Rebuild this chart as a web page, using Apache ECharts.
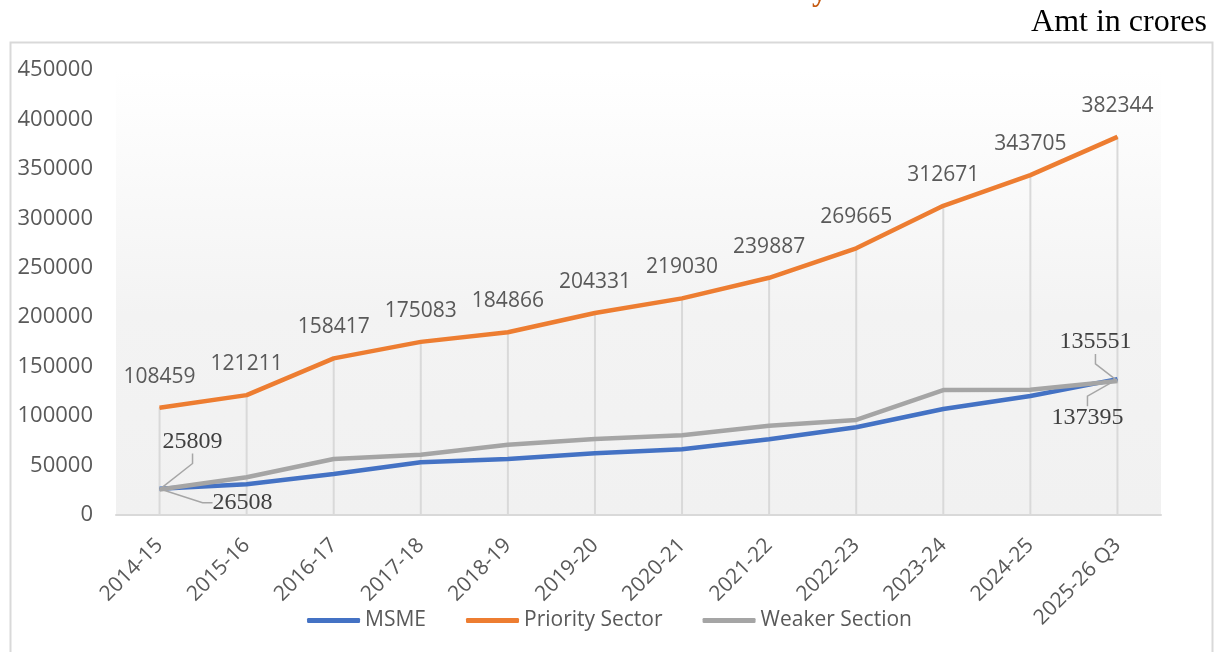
<!DOCTYPE html>
<html>
<head>
<meta charset="utf-8">
<script src="https://cdn.jsdelivr.net/npm/echarts@6/dist/echarts.min.js"></script>
<style>
  html, body { margin: 0; padding: 0; background: #fff; }
  #main { width: 1219px; height: 652px; }
</style>
</head>
<body>
<div id="main"></div>
<script>
var years = ['2014-15', '2015-16', '2016-17', '2017-18', '2018-19', '2019-20',
    '2020-21', '2021-22', '2022-23', '2023-24', '2024-25', '2025-26 Q3'];
var msme = [26508, 31000, 41500, 53300, 56600, 62400, 66400, 76500, 88700, 107200, 120300, 137395];
var priority = [108459, 121211, 158417, 175083, 184866, 204331, 219030, 239887, 269665, 312671, 343705, 382344];
var weaker = [25809, 38100, 56600, 61000, 71100, 76900, 80600, 90300, 96100, 126400, 126600, 135551];

var myChart = echarts.init(document.getElementById('main'));

var sansFont = '"Open Sans", "Noto Sans", sans-serif';
var serifFont = '"Liberation Serif", "DejaVu Serif", serif';

// only first and last points carry a label on the two lower lines
function endLabels(values) {
    return values.map(function (v, i) {
        var show = (i === 0 || i === values.length - 1);
        return { value: v, label: { show: show } };
    });
}

// label offsets (dx, dy) from the point for first / last labels
var msmeOffsets = [[83, 14], [-30, 39]];
var weakerOffsets = [[33, -48], [-22, -39]];

function moveLabel(offsets, n) {
    return function (params) {
        if (params.dataIndex === 0) {
            return { dx: offsets[0][0], dy: offsets[0][1] };
        }
        if (params.dataIndex === n - 1) {
            return { dx: offsets[1][0], dy: offsets[1][1] };
        }
        return {};
    };
}

var endLabelStyle = {
    position: 'inside',
    fontFamily: serifFont,
    fontSize: 24,
    color: '#404040'
};
var leader = { show: true, length2: 10, lineStyle: { color: '#a6a6a6', width: 1.5 } };

option = {
    backgroundColor: '#ffffff',
    animation: false,
    graphic: [
        {
            type: 'rect',
            left: 8,
            top: 40,
            shape: { width: 1202, height: 630 },
            style: { fill: 'none', stroke: '#d9d9d9', lineWidth: 2 },
            silent: true
        },
        {
            type: 'text',
            right: 12,
            top: 7,
            style: {
                text: 'Amt in crores',
                font: '32px ' + serifFont,
                fill: '#000000'
            }
        },
        {
            type: 'text',
            left: 812,
            top: -22,
            style: {
                text: 'y',
                font: 'bold 30px ' + serifFont,
                fill: '#c55a11'
            }
        }
    ],
    grid: {
        left: 116,
        right: 58,
        top: 70,
        bottom: 137,
        show: true,
        borderWidth: 0,
        backgroundColor: {
            type: 'linear', x: 0, y: 0, x2: 0, y2: 1,
            colorStops: [
                { offset: 0, color: '#ffffff' },
                { offset: 0.55, color: '#f3f3f3' },
                { offset: 1, color: '#f1f1f1' }
            ]
        }
    },
    legend: {
        top: 605,
        left: 'center',
        itemWidth: 53,
        itemHeight: 5,
        itemGap: 40,
        icon: 'roundRect',
        textStyle: { fontFamily: sansFont, fontSize: 21, color: '#595959' },
        data: ['MSME', 'Priority Sector', 'Weaker Section']
    },
    xAxis: {
        type: 'category',
        data: years,
        boundaryGap: true,
        axisLine: { lineStyle: { color: '#d9d9d9', width: 2 } },
        axisTick: { show: false },
        axisLabel: {
            rotate: 45,
            margin: 27,
            interval: 0,
            fontFamily: sansFont,
            fontSize: 21,
            color: '#595959'
        },
        splitLine: { show: false }
    },
    yAxis: {
        type: 'value',
        min: 0,
        max: 450000,
        interval: 50000,
        axisLine: { show: false },
        axisTick: { show: false },
        splitLine: { show: false },
        axisLabel: {
            margin: 23,
            fontFamily: sansFont,
            fontSize: 22,
            color: '#595959',
            formatter: function (v) { return String(v); }
        }
    },
    series: [
        {
            // drop lines from the top series down to the axis
            name: 'drop',
            type: 'bar',
            data: priority,
            barWidth: 2,
            silent: true,
            itemStyle: { color: '#d9d9d9' },
            z: 1
        },
        {
            name: 'MSME',
            type: 'line',
            data: endLabels(msme),
            symbol: 'circle',
            symbolSize: 1,
            itemStyle: { color: '#4472c4' },
            lineStyle: { color: '#4472c4', width: 4.5 },
            label: endLabelStyle,
            labelLine: leader,
            labelLayout: moveLabel(msmeOffsets, msme.length),
            z: 3
        },
        {
            name: 'Priority Sector',
            type: 'line',
            data: priority,
            symbol: 'circle',
            symbolSize: 1,
            itemStyle: { color: '#ed7d31' },
            lineStyle: { color: '#ed7d31', width: 4.5 },
            label: {
                show: true,
                position: 'top',
                distance: 20,
                fontFamily: sansFont,
                fontSize: 21,
                color: '#595959'
            },
            z: 3
        },
        {
            name: 'Weaker Section',
            type: 'line',
            data: endLabels(weaker),
            symbol: 'circle',
            symbolSize: 1,
            itemStyle: { color: '#a5a5a5' },
            lineStyle: { color: '#a5a5a5', width: 4.5 },
            label: endLabelStyle,
            labelLine: leader,
            labelLayout: moveLabel(weakerOffsets, weaker.length),
            z: 4
        }
    ]
};

myChart.setOption(option);
</script>
</body>
</html>
